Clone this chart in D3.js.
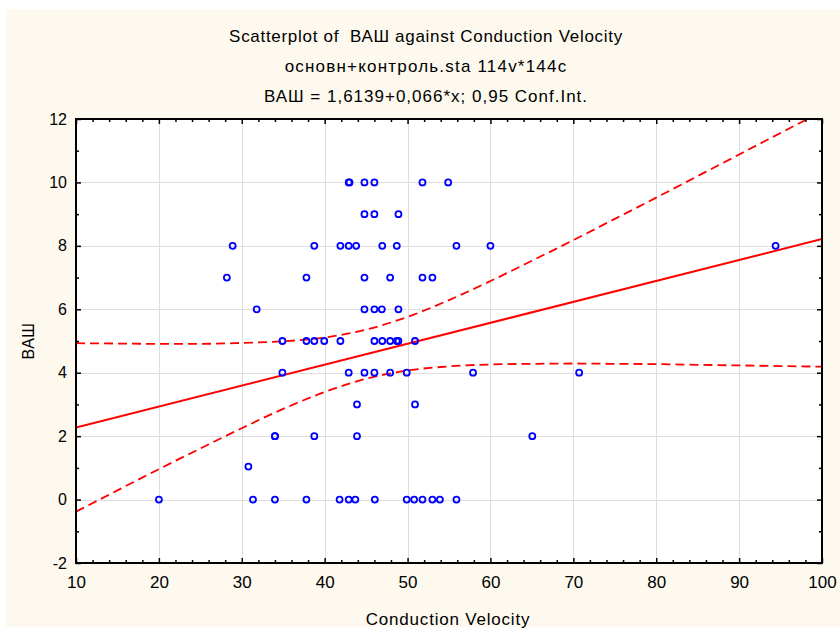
<!DOCTYPE html>
<html>
<head>
<meta charset="utf-8">
<script src="https://cdn.jsdelivr.net/npm/d3@7"></script>
<style>
  html, body { margin: 0; padding: 0; background: #ffffff; }
  svg { display: block; }
  text { font-family: "Liberation Sans", Arial, sans-serif; fill: #000; }
</style>
</head>
<body>
<svg id="chart" width="840" height="630"></svg>
<script>
// ---- data ----
const titleLines = [
  "Scatterplot of  ВАШ against Conduction Velocity",
  "основн+контроль.sta 114v*144c",
  "ВАШ = 1,6139+0,066*x; 0,95 Conf.Int."
];
const xLabel = "Conduction Velocity";
const yLabel = "ВАШ";

const xTicks = [10, 20, 30, 40, 50, 60, 70, 80, 90, 100];
const yTicks = [-2, 0, 2, 4, 6, 8, 10, 12];

// Conduction Velocity (x) and ВАШ (y) for each observation
const conductionVelocity = [
  42.9, 43.0, 44.8, 46.0, 51.8, 54.9,
  44.8, 46.0, 48.9,
  28.9, 38.75, 41.9, 42.9, 43.8, 46.95, 48.7, 55.9, 60.0, 94.4,
  28.2, 37.8, 44.8, 47.9, 51.8, 53.0,
  31.8, 44.8, 46.0, 46.9, 48.9,
  34.9, 37.8, 38.75, 39.95, 41.9, 46.0, 46.95, 47.9, 48.7, 48.9, 50.9,
  34.9, 42.9, 44.8, 46.0, 47.9, 49.9, 57.9, 70.7,
  43.9, 50.9,
  34.0, 34.0, 38.75, 43.9, 65.05,
  30.8,
  20.0, 31.35, 34.0, 37.8, 41.8, 42.9, 43.7, 46.05, 49.9, 50.8, 51.8, 53.0, 53.9, 55.9
];
const vas = [
  10, 10, 10, 10, 10, 10,
  9, 9, 9,
  8, 8, 8, 8, 8, 8, 8, 8, 8, 8,
  7, 7, 7, 7, 7, 7,
  6, 6, 6, 6, 6,
  5, 5, 5, 5, 5, 5, 5, 5, 5, 5, 5,
  4, 4, 4, 4, 4, 4, 4, 4,
  3, 3,
  2, 2, 2, 2, 2,
  1.04,
  0, 0, 0, 0, 0, 0, 0, 0, 0, 0, 0, 0, 0, 0
];

// regression line end points (ВАШ = 1,6139 + 0,066*x)
const fitX = [10, 100];
const fitY = [2.274, 8.214];

// 95% confidence band
const bandX =     [10,   15,   20,   25,   30,   35,   40,   45,   50,   55,   60,   65,   70,   75,   80,   85,    90,    95,    100];
const bandUpper = [4.93, 4.92, 4.91, 4.91, 4.94, 4.99, 5.11, 5.36, 5.76, 6.29, 6.89, 7.53, 8.18, 8.85, 9.52, 10.20, 10.88, 11.56, 12.24];
const bandLower = [-0.38, 0.29, 0.96, 1.61, 2.25, 2.86, 3.39, 3.81, 4.07, 4.20, 4.26, 4.28, 4.29, 4.28, 4.27, 4.25, 4.23, 4.21, 4.19];

// ---- drawing ----
const W = 840, H = 630;
const plot = { left: 76, right: 822, top: 119, bottom: 563 };
const svg = d3.select("#chart");

svg.append("rect").attr("x", 6).attr("y", 9).attr("width", W - 6).attr("height", 618)
  .attr("fill", "#fdf9ee");

const x = d3.scaleLinear().domain([10, 100]).range([plot.left, plot.right]);
const y = d3.scaleLinear().domain([-2, 12]).range([plot.bottom, plot.top]);

svg.append("rect").attr("x", plot.left).attr("y", plot.top)
  .attr("width", plot.right - plot.left).attr("height", plot.bottom - plot.top)
  .attr("fill", "#ffffff");

// grid
const grid = svg.append("g").attr("stroke", "#dedede").attr("stroke-width", 1);
grid.selectAll("line.v").data(xTicks.slice(1, -1)).join("line")
  .attr("x1", d => Math.round(x(d)) + 0.5).attr("x2", d => Math.round(x(d)) + 0.5)
  .attr("y1", plot.top).attr("y2", plot.bottom);
grid.selectAll("line.h").data(yTicks.slice(1, -1)).join("line")
  .attr("y1", d => Math.round(y(d)) + 0.5).attr("y2", d => Math.round(y(d)) + 0.5)
  .attr("x1", plot.left).attr("x2", plot.right);

// clip
svg.append("clipPath").attr("id", "clip").append("rect")
  .attr("x", plot.left).attr("y", plot.top)
  .attr("width", plot.right - plot.left).attr("height", plot.bottom - plot.top);

const gData = svg.append("g").attr("clip-path", "url(#clip)");

const bandLine = d3.line().curve(d3.curveMonotoneX);
gData.append("path")
  .attr("d", bandLine(bandX.map((v, i) => [x(v), y(bandUpper[i])])))
  .attr("fill", "none").attr("stroke", "#ff0000").attr("stroke-width", 1.8)
  .attr("stroke-dasharray", "9,5");
gData.append("path")
  .attr("d", bandLine(bandX.map((v, i) => [x(v), y(bandLower[i])])))
  .attr("fill", "none").attr("stroke", "#ff0000").attr("stroke-width", 1.8)
  .attr("stroke-dasharray", "9,5");
gData.append("path")
  .attr("d", d3.line()(fitX.map((v, i) => [x(v), y(fitY[i])])))
  .attr("fill", "none").attr("stroke", "#ff0000").attr("stroke-width", 2);

gData.selectAll("circle").data(conductionVelocity.map((v, i) => [v, vas[i]])).join("circle")
  .attr("cx", d => x(d[0])).attr("cy", d => y(d[1])).attr("r", 3)
  .attr("fill", "none").attr("stroke", "#0000ff").attr("stroke-width", 1.8);

// axes with inward ticks
const xMinor = d3.range(12, 100, 2).filter(v => v % 10 !== 0);
const yMinor = d3.range(-1, 12, 2);
const plain = d => String(d);

function styleAxis(g) {
  g.select(".domain").remove();
  g.selectAll(".tick line").attr("stroke", "#000").attr("stroke-width", 1.5);
}

svg.append("g").attr("transform", `translate(0,${plot.bottom})`)
  .call(d3.axisBottom(x).tickValues(xTicks).tickSize(-5).tickPadding(13).tickFormat(plain))
  .call(styleAxis)
  .call(g => g.selectAll("text").attr("font-size", 17).attr("font-family", "Liberation Sans, Arial, sans-serif").attr("fill", "#000"));
svg.append("g").attr("transform", `translate(0,${plot.bottom})`)
  .call(d3.axisBottom(x).tickValues(xMinor).tickSize(-3).tickFormat(""))
  .call(styleAxis);
svg.append("g").attr("transform", `translate(0,${plot.top})`)
  .call(d3.axisTop(x).tickValues(xTicks).tickSize(-5).tickFormat(""))
  .call(styleAxis);
svg.append("g").attr("transform", `translate(0,${plot.top})`)
  .call(d3.axisTop(x).tickValues(xMinor).tickSize(-3).tickFormat(""))
  .call(styleAxis);

svg.append("g").attr("transform", `translate(${plot.left},0)`)
  .call(d3.axisLeft(y).tickValues(yTicks).tickSize(-5).tickPadding(9).tickFormat(plain))
  .call(styleAxis)
  .call(g => g.selectAll("text").attr("font-size", 16).attr("font-family", "Liberation Sans, Arial, sans-serif").attr("fill", "#000"));
svg.append("g").attr("transform", `translate(${plot.left},0)`)
  .call(d3.axisLeft(y).tickValues(yMinor).tickSize(-3).tickFormat(""))
  .call(styleAxis);
svg.append("g").attr("transform", `translate(${plot.right},0)`)
  .call(d3.axisRight(y).tickValues(yTicks).tickSize(-5).tickFormat(""))
  .call(styleAxis);
svg.append("g").attr("transform", `translate(${plot.right},0)`)
  .call(d3.axisRight(y).tickValues(yMinor).tickSize(-3).tickFormat(""))
  .call(styleAxis);

// frame
svg.append("rect").attr("x", plot.left).attr("y", plot.top)
  .attr("width", plot.right - plot.left).attr("height", plot.bottom - plot.top)
  .attr("fill", "none").attr("stroke", "#000").attr("stroke-width", 2);

// titles
const titleY = [42, 72, 102];
const titleSpacing = [0.7, 1.2, 1.0];
svg.selectAll("text.title").data(titleLines).join("text")
  .attr("class", "title")
  .attr("x", 426).attr("y", (d, i) => titleY[i])
  .attr("text-anchor", "middle").attr("font-size", 17)
  .attr("letter-spacing", (d, i) => titleSpacing[i])
  .attr("xml:space", "preserve").style("white-space", "pre")
  .text(d => d);

svg.append("text").attr("x", 448).attr("y", 625)
  .attr("text-anchor", "middle").attr("font-size", 17).attr("letter-spacing", 0.8).text(xLabel);
svg.append("text")
  .attr("transform", `translate(34,${(plot.top + plot.bottom) / 2}) rotate(-90)`)
  .attr("text-anchor", "middle").attr("font-size", 16).attr("letter-spacing", 0.5).text(yLabel);
</script>
</body>
</html>
